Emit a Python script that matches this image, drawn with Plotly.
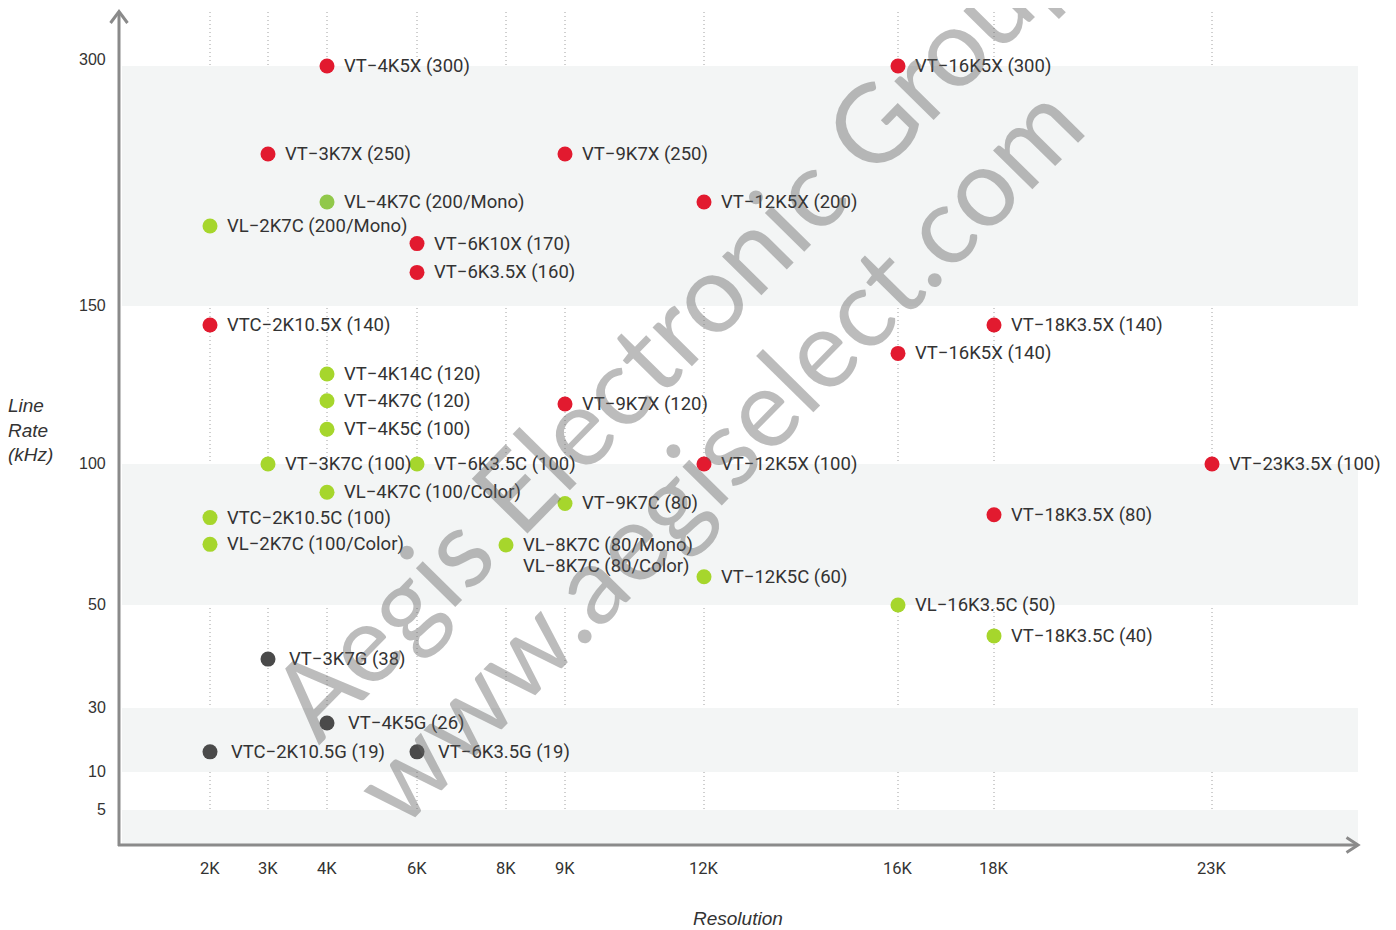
import numpy as np
import plotly.graph_objects as go

# ---------------- data ----------------
# axis scales (tick values and their labels)
RES_TICKS = [2, 3, 4, 6, 8, 9, 12, 16, 18, 23]
RES_TICK_TEXT = ["2K", "3K", "4K", "6K", "8K", "9K", "12K", "16K", "18K", "23K"]
RATE_TICKS = [0, 5, 10, 30, 50, 100, 150, 300]
RATE_TICK_TEXT = ["", "5", "10", "30", "50", "100", "150", "300"]

# red series (X)
x_labels = ["VT−4K5X (300)", "VT−16K5X (300)", "VT−3K7X (250)", "VT−9K7X (250)",
            "VT−12K5X (200)", "VT−6K10X (170)", "VT−6K3.5X (160)", "VTC−2K10.5X (140)",
            "VT−18K3.5X (140)", "VT−16K5X (140)", "VT−9K7X (120)", "VT−12K5X (100)",
            "VT−23K3.5X (100)", "VT−18K3.5X (80)"]
x_res = [4, 16, 3, 9, 12, 6, 6, 2, 18, 16, 9, 12, 23, 18]
x_rate = [300, 300, 245, 245, 215, 189, 171, 144, 144, 135, 119, 100, 100, 82]

# green series (C)
c_labels = ["VL−4K7C (200/Mono)", "VL−2K7C (200/Mono)", "VT−4K14C (120)", "VT−4K7C (120)",
            "VT−4K5C (100)", "VT−3K7C (100)", "VT−6K3.5C (100)", "VL−4K7C (100/Color)",
            "VTC−2K10.5C (100)", "VT−9K7C (80)", "VL−2K7C (100/Color)", "VL−8K7C (80/Mono)",
            "VT−12K5C (60)", "VL−16K3.5C (50)", "VT−18K3.5C (40)"]
c_res = [4, 2, 4, 4, 4, 3, 6, 4, 2, 9, 2, 8, 12, 16, 18]
c_rate = [215, 200, 128.5, 120, 111, 100, 100, 90, 81, 86, 71.5, 71.3, 60, 50, 44]
c_extra_label = "VL−8K7C (80/Color)"   # second line for the 8K point

# gray series (G)
g_labels = ["VT−3K7G (38)", "VT−4K5G (26)", "VTC−2K10.5G (19)", "VT−6K3.5G (19)"]
g_res = [3, 4, 2, 6]
g_rate = [39.5, 25.3, 16.3, 16.3]

# ---------------- scales ----------------
# piecewise scale breakpoints (axis units)
RES_AXIS = [91, 149, 208, 298, 387, 446, 585, 779, 875, 1093]
RATE_AXIS = [0, 35, 73, 137, 240, 381, 539, 779]
X_RANGE = [0, 1241]
Y_RANGE = [0, 835]


def xmap(v):
    return list(np.interp(v, RES_TICKS, RES_AXIS))


def ymap(v):
    return list(np.interp(v, RATE_TICKS, RATE_AXIS))


OFF = 8            # page body margin
L, T = 119, 10     # plot-area origin in page pixels
W, H = 1396 - OFF, 930 - OFF
PW = X_RANGE[1]
PH = Y_RANGE[1]


def px(x):
    return (x - L) / PW


def py(y):
    return (T + PH - y) / PH


RED = "#e21a2f"
GREEN = "#a6d62c"
GREEN_D = "#91c84a"
GRAY = "#4a4a4a"
TXT = "#333333"
LABEL_FONT = "Roboto"
LABEL_SIZE = 18.5

fig = go.Figure()

c_colors = [GREEN_D] + [GREEN] * (len(c_labels) - 1)

for res, rate, labels, colors, name in [
    (x_res, x_rate, x_labels, RED, "X"),
    (c_res, c_rate, c_labels, c_colors, "C"),
    (g_res, g_rate, g_labels, GRAY, "G"),
]:
    fig.add_trace(go.Scatter(
        x=xmap(res), y=ymap(rate), mode="markers", name=name,
        marker=dict(size=15, color=colors, line=dict(width=0)),
        hoverinfo="text", hovertext=labels, showlegend=False,
    ))

annotations = []
for res, rate, labels, shift in [
    (x_res, x_rate, x_labels, 15),
    (c_res, c_rate, c_labels, 15),
    (g_res, g_rate, g_labels, 19),
]:
    for xx, yy, lab in zip(xmap(res), ymap(rate), labels):
        annotations.append(dict(
            x=xx, y=yy, xref="x", yref="y", text=lab, showarrow=False,
            xanchor="left", yanchor="middle", xshift=shift, yshift=0,
            font=dict(family=LABEL_FONT, size=LABEL_SIZE, color=TXT),
        ))
# second line of 8K label
i8 = c_res.index(8)
annotations.append(dict(
    x=xmap([c_res[i8]])[0], y=ymap([c_rate[i8]])[0], xref="x", yref="y",
    text=c_extra_label, showarrow=False, xanchor="left", yanchor="middle",
    xshift=15, yshift=-21, font=dict(family=LABEL_FONT, size=LABEL_SIZE, color=TXT),
))

# y tick labels
for v, t, pos in zip(RATE_TICKS, RATE_TICK_TEXT, ymap(RATE_TICKS)):
    if not t:
        continue
    annotations.append(dict(
        x=0, y=pos, xref="paper", yref="y", text=t, showarrow=False,
        xanchor="right", yanchor="middle", xshift=-11, yshift=7 if v == 300 else 1,
        font=dict(family="Liberation Sans", size=16, color=TXT),
    ))
# x tick labels
for t, pos in zip(RES_TICK_TEXT, xmap(RES_TICKS)):
    annotations.append(dict(
        x=pos, y=0, xref="x", yref="paper", text=t, showarrow=False,
        xanchor="center", yanchor="middle", yshift=-23,
        font=dict(family=LABEL_FONT, size=16.5, color=TXT),
    ))

# axis titles
annotations.append(dict(
    x=px(738), y=py(918), xref="paper", yref="paper", text="<i>Resolution</i>",
    showarrow=False, xanchor="center", yanchor="middle",
    font=dict(family="Liberation Sans", size=19, color=TXT),
))
annotations.append(dict(
    x=px(30), y=py(430), xref="paper", yref="paper", text="<i>Line<br>Rate<br>(kHz)</i>",
    showarrow=False, xanchor="center", yanchor="middle", align="left",
    font=dict(family="Liberation Sans", size=19, color=TXT),
))

# watermark
for txt, cx, cy in [("Aegis Electronic Group", 670, 327), ("www.aegiselect.com", 715, 451)]:
    annotations.append(dict(
        x=px(cx), y=py(cy), xref="paper", yref="paper", text=txt, showarrow=False,
        textangle=-45.5, xanchor="center", yanchor="middle",
        font=dict(family="Lato", size=109, color="rgba(95,95,95,0.42)"),
    ))

shapes = []
# background bands between tick pairs
for lo, hi in [(0, 5), (10, 30), (50, 100), (150, 300)]:
    y0, y1 = ymap([lo, hi])
    shapes.append(dict(type="rect", xref="x", yref="y", x0=3, x1=1239, y0=y0, y1=y1,
                       fillcolor="#f3f5f5", line=dict(width=0), layer="below"))
# vertical dotted gridlines
for pos in xmap(RES_TICKS):
    shapes.append(dict(type="line", xref="x", yref="paper", x0=pos, x1=pos, y0=0, y1=py(10),
                       line=dict(color="#a0a0a0", width=1, dash="1px,3px"), layer="below"))
AX = "#8a8a8a"
# y axis + arrow
shapes.append(dict(type="line", xref="paper", yref="paper", x0=px(119), x1=px(119),
                   y0=py(846), y1=py(12), line=dict(color=AX, width=3)))
shapes.append(dict(type="path", xref="paper", yref="paper",
                   path=f"M {px(110.5)} {py(23)} L {px(119)} {py(11.5)} L {px(127.5)} {py(23)}",
                   line=dict(color=AX, width=3)))
# x axis + arrow
shapes.append(dict(type="line", xref="paper", yref="paper", x0=px(118), x1=px(1357),
                   y0=py(845), y1=py(845), line=dict(color=AX, width=3)))
shapes.append(dict(type="path", xref="paper", yref="paper",
                   path=f"M {px(1346.5)} {py(837.5)} L {px(1358)} {py(845)} L {px(1346.5)} {py(852.5)}",
                   line=dict(color=AX, width=3)))

fig.update_layout(
    width=W, height=H,
    margin=dict(l=L - OFF, r=W - (L - OFF) - PW, t=T - OFF, b=H - (T - OFF) - PH),
    paper_bgcolor="white", plot_bgcolor="rgba(0,0,0,0)",
    xaxis=dict(range=X_RANGE, showgrid=False, zeroline=False, showline=False,
               showticklabels=False, ticks="", fixedrange=True),
    yaxis=dict(range=Y_RANGE, showgrid=False, zeroline=False, showline=False,
               showticklabels=False, ticks="", fixedrange=True),
    annotations=annotations, shapes=shapes,
    showlegend=False,
)

fig.write_html("out.html")
